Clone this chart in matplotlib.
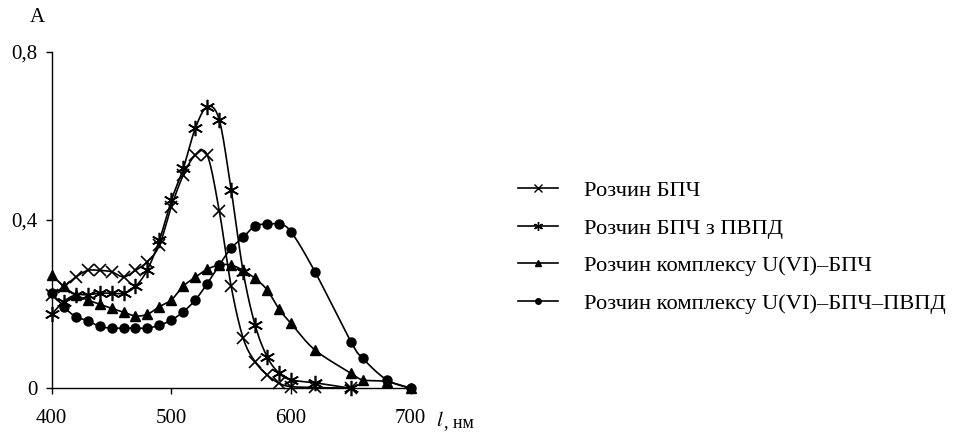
import numpy as np
import matplotlib
matplotlib.use("Agg")
import matplotlib.pyplot as plt
from matplotlib.lines import Line2D

plt.rcParams['font.family'] = ['Liberation Serif', 'DejaVu Serif']

# Data
wl = [400, 410, 420, 430, 440, 450, 460, 470, 480, 490, 500, 510, 520, 530,
      540, 550, 560, 570, 580, 590, 600, 620, 650, 660, 680, 700]

wl_bpch = [400, 410, 420, 430, 440, 450, 460, 470, 480, 490, 500, 510, 520, 530,
           540, 550, 560, 570, 580, 590, 600, 620, 650]
a_bpch = [0.222, 0.241, 0.264, 0.280, 0.280, 0.277, 0.265, 0.280, 0.301, 0.340, 0.432,
          0.507, 0.554, 0.554, 0.422, 0.242, 0.119, 0.063, 0.032, 0.012, 0.004,
          0.002, 0.0]

wl_bpch_pvpd = [400, 410, 420, 430, 440, 450, 460, 470, 480, 490, 500, 510, 520, 530,
                540, 550, 560, 570, 580, 590, 600, 620, 650]
a_bpch_pvpd = [0.176, 0.206, 0.222, 0.222, 0.226, 0.226, 0.226, 0.242, 0.282, 0.352,
               0.447, 0.523, 0.618, 0.669, 0.638, 0.471, 0.277, 0.150, 0.075, 0.036,
               0.020, 0.013, 0.0]

a_complex = [0.269, 0.242, 0.222, 0.210, 0.200, 0.190, 0.181, 0.172, 0.176, 0.194,
             0.210, 0.243, 0.264, 0.283, 0.293, 0.293, 0.280, 0.261, 0.234, 0.188,
             0.154, 0.091, 0.036, 0.020, 0.016, 0.0]

a_complex_pvpd = [0.226, 0.194, 0.170, 0.161, 0.147, 0.143, 0.143, 0.143, 0.143, 0.150,
                  0.162, 0.182, 0.210, 0.249, 0.293, 0.333, 0.359, 0.386, 0.390, 0.390,
                  0.372, 0.277, 0.111, 0.071, 0.020, 0.0]

labels = ["Розчин БПЧ", "Розчин БПЧ з ПВПД", "Розчин комплексу U(VI)–БПЧ",
          "Розчин комплексу U(VI)–БПЧ–ПВПД"]

X_SCALE = 1.197   # px per nm (for smoothing in screen-like space)
Y_SCALE = 420.8   # px per unit


def smooth(xs, ys, n=20):
    px = (np.asarray(xs, float) - 400) * X_SCALE
    py = np.asarray(ys, float) * Y_SCALE
    P = np.column_stack([px, py])
    out = []
    m = len(P)
    for i in range(m - 1):
        p0 = P[i - 1] if i > 0 else P[i]
        p1 = P[i]
        p2 = P[i + 1]
        p3 = P[i + 2] if i + 2 < m else P[i + 1]
        c1 = p1 + (p2 - p0) / 6.0
        c2 = p2 - (p3 - p1) / 6.0
        t = np.linspace(0, 1, n, endpoint=(i == m - 2))[:, None]
        seg = ((1 - t) ** 3) * p1 + 3 * ((1 - t) ** 2) * t * c1 + 3 * (1 - t) * t ** 2 * c2 + t ** 3 * p2
        out.append(seg)
    out = np.vstack(out)
    return out[:, 0] / X_SCALE + 400, out[:, 1] / Y_SCALE


fig = plt.figure(figsize=(9.54, 4.32), dpi=100)
ax = fig.add_axes([0.0542, 0.1012, 0.4305 - 0.0542, 0.8803 - 0.1012])

asterisk = (6, 2, 0)
series = [
    (wl_bpch, a_bpch, 'x', 9, 1.2, 'k'),
    (wl_bpch_pvpd, a_bpch_pvpd, asterisk, 11, 1.2, 'k'),
    (wl, a_complex, '^', 6.5, 1.0, 'k'),
    (wl, a_complex_pvpd, 'o', 6.5, 1.0, 'k'),
]
for xs, ys, mk, ms, mew, c in series:
    sx, sy = smooth(xs, ys)
    ax.plot(sx, sy, color='k', lw=1.2, clip_on=False, zorder=3)
    ax.plot(xs, ys, linestyle='none', marker=mk, markersize=ms, markeredgewidth=mew,
            color='k', clip_on=False, zorder=4)

ax.set_xlim(400, 700)
ax.set_ylim(0, 0.8)
ax.spines['top'].set_visible(False)
ax.spines['right'].set_visible(False)
ax.spines['left'].set_linewidth(1.0)
ax.spines['bottom'].set_linewidth(1.0)
ax.set_xticks([400, 500, 600, 700])
ax.set_xticklabels(['400', '500', '600', '700'])
ax.set_yticks([0, 0.4, 0.8])
ax.set_yticklabels(['0', '0,4', '0,8'])
ax.tick_params(axis='both', direction='out', length=4, width=1.0, labelsize=15, colors='k')
ax.tick_params(axis='x', pad=11)
ax.tick_params(axis='y', pad=6)

fig.text(37 / 954, 1 - 18 / 432, 'A', ha='center', va='center', fontsize=15)
fig.text(436 / 954, 1 - 421 / 432, '$\\mathit{l}$', ha='left', va='center', fontsize=15,
         math_fontfamily='stix')
fig.text(444 / 954, 1 - 423 / 432, ', нм', ha='left', va='center', fontsize=13)

handles = [
    Line2D([], [], color='k', lw=1.2, marker='x', markersize=5.5, markeredgewidth=1.0),
    Line2D([], [], color='k', lw=1.2, marker=asterisk, markersize=6.5, markeredgewidth=1.0),
    Line2D([], [], color='k', lw=1.2, marker='^', markersize=4),
    Line2D([], [], color='k', lw=1.2, marker='o', markersize=4),
]
fig.legend(handles, labels, loc='upper left', bbox_to_anchor=(518 / 954, 1 - 180.5 / 432),
           frameon=False, fontsize=16.2, handlelength=1.76, handletextpad=1.17,
           labelspacing=0.745, borderpad=0, borderaxespad=0)

fig.savefig('out.png', dpi=100)
